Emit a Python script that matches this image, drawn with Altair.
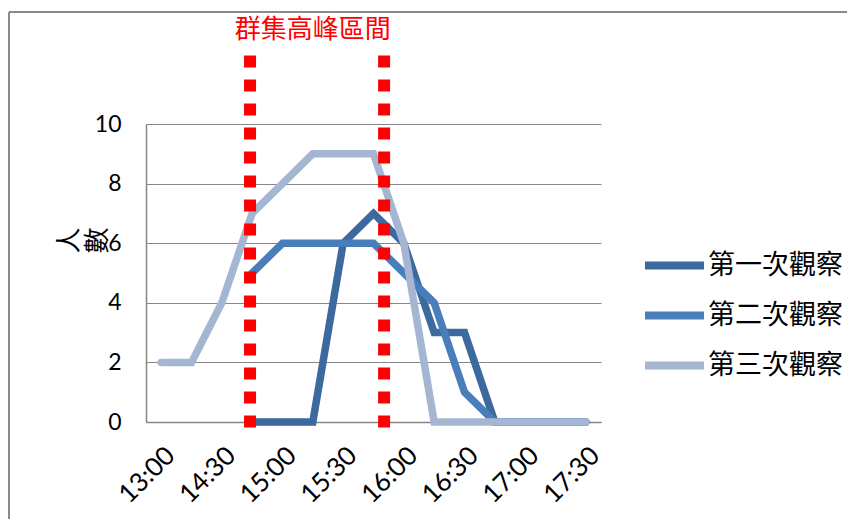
import json
import altair as alt
import pandas as pd

# ---- data ----
times = ["13:00", "14:00", "14:30", "14:45", "15:00", "15:15", "15:30", "15:45",
         "16:00", "16:15", "16:30", "16:45", "17:00", "17:15", "17:30"]
series_names = ["第一次觀察", "第二次觀察", "第三次觀察"]
s1 = [None, None, None, 0, 0, 0, 6, 7, 6, 3, 3, 0, 0, 0, 0]
s2 = [None, None, None, 5, 6, 6, 6, 6, 5, 4, 1, 0, 0, 0, 0]
s3 = [2, 2, 4, 7, 8, 9, 9, 9, 6, 0, 0, 0, 0, 0, 0]
y_ticks = [0, 2, 4, 6, 8, 10]
peak_bounds = [2.93, 7.35]      # red dotted boundaries, on the category index axis
peak_label = "群集高峰區間"
peak_label_pos = [5.0, 13.15]
y_title = ["人", "數"]

colors = ["#3C6A9E", "#4A7EBB", "#A5B6D3"]
GRID = "#868686"

rows = []
for name, vals in zip(series_names, [s1, s2, s3]):
    for i, v in enumerate(vals):
        if v is not None:
            rows.append({"idx": i, "time": times[i], "series": name, "value": v})
df = pd.DataFrame(rows)

label_expr = json.dumps(times) + "[datum.value]"
x_scale = alt.Scale(domain=[-0.5, len(times) - 0.5], nice=False, zero=False)
y_scale = alt.Scale(domain=[0, 10], nice=False)

x_axis = alt.Axis(values=list(range(0, len(times), 2)), labelExpr=label_expr, title=None,
                  grid=False, ticks=False, labelAngle=-45, labelFontSize=26, labelFont="Lato",
                  labelColor="black", labelPadding=20, domainColor=GRID, domainWidth=1.5,
                  labelAlign="right", labelBaseline="top", labelOverlap=False,
                  labelBound=False, labelFlush=False)
y_axis = alt.Axis(values=y_ticks, title=y_title, grid=True, gridColor=GRID, gridWidth=1.2,
                  ticks=False, domainColor=GRID, domainWidth=1.5, labelFontSize=23,
                  labelFont="Lato", labelColor="black", labelPadding=25,
                  titleAngle=270, titleX=-77, titleY=116, titleAlign="center",
                  titleBaseline="middle", titleLineHeight=28, titleFontSize=26,
                  titleFont="Noto Sans CJK TC", titleFontWeight="normal", titleColor="black")

legend = alt.Legend(title=None, orient="none", legendX=495, legendY=108,
                    symbolType="stroke", symbolSize=3481, symbolStrokeWidth=8,
                    labelFontSize=27, labelFont="Noto Sans CJK TC", labelColor="black",
                    labelOffset=0, rowPadding=0)

color = alt.Color("series:N", scale=alt.Scale(domain=series_names, range=colors), legend=legend)

X = lambda f: alt.X(f, scale=x_scale, axis=x_axis)
Y = lambda f: alt.Y(f, scale=y_scale, axis=y_axis)

base = alt.Chart(df)
lines = []
for name in series_names:
    lines.append(
        base.transform_filter(alt.datum.series == name)
        .mark_line(strokeWidth=7.5, strokeCap="round")
        .encode(x=X("idx:Q"), y=Y("value:Q"), color=color)
    )

rule_df = pd.DataFrame({"x": peak_bounds, "top": [12.3, 12.3], "bottom": [-0.2, -0.2]})
rules = alt.Chart(rule_df).mark_rule(color="#FF0000", strokeWidth=12, strokeDash=[12, 12]).encode(
    x=X("x:Q"), y=Y("top:Q"), y2="bottom:Q",
)

text_df = pd.DataFrame({"x": [peak_label_pos[0]], "y": [peak_label_pos[1]], "t": [peak_label]})
label = alt.Chart(text_df).mark_text(color="#FF0000", fontSize=26, font="Noto Sans CJK TC").encode(
    x=X("x:Q"), y=Y("y:Q"), text="t:N",
)

frame_df = pd.DataFrame({"a": [0]})
frame_v = alt.Chart(frame_df).mark_rule(color="#8A8A8A", strokeWidth=2).encode(
    x=alt.value(-137), y=alt.value(-112), y2=alt.value(420))
frame_h = alt.Chart(frame_df).mark_rule(color="#8A8A8A", strokeWidth=2).encode(
    x=alt.value(-137), x2=alt.value(720), y=alt.value(-112))

chart = alt.layer(*lines, rules, label, frame_v, frame_h).properties(
    width=455, height=298,
    autosize=alt.AutoSizeParams(type="none"),
    padding={"left": 138, "top": 116, "right": 246, "bottom": 97},
).configure_view(stroke=None)

chart.save("out.html", embed_options={"renderer": "svg", "actions": False})
